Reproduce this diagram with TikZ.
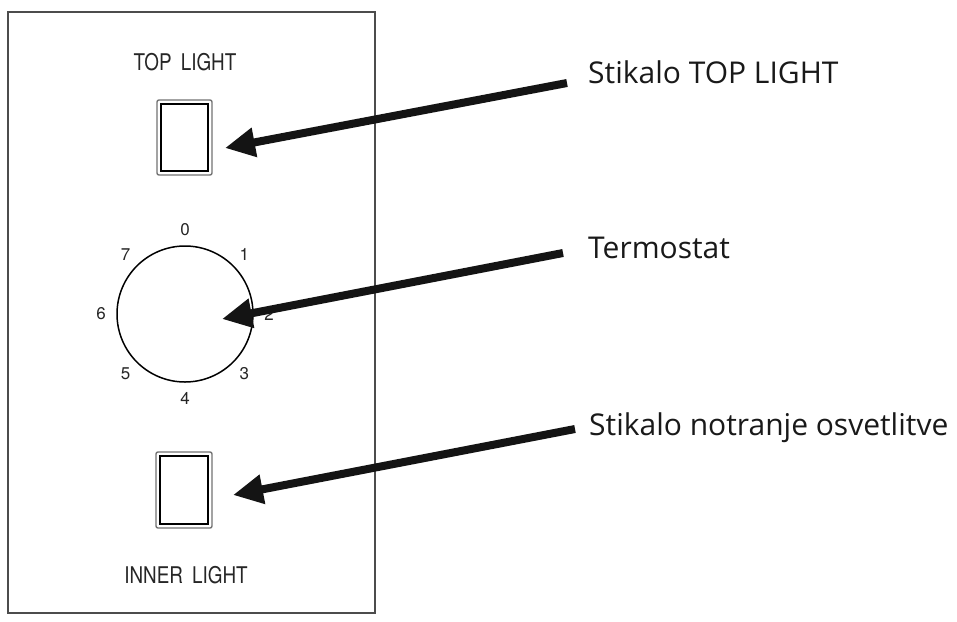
\documentclass[tikz,border=0pt]{standalone}
\usepackage{fontspec}
\setmainfont{Open Sans}
\newfontfamily\labfont[FakeStretch=0.82]{TeX Gyre Heros}
\newfontfamily\numfont{TeX Gyre Heros}
\usetikzlibrary{arrows.meta,calc}
\begin{document}
\begin{tikzpicture}[x=1pt,y=-1pt,
  panel/.style={draw=black!70,line width=1.6pt},
  swouter/.style={draw=black!55,line width=1.4pt,rounded corners=2pt},
  swinner/.style={draw=black,line width=1.4pt},
  dial/.style={draw=black,line width=1.5pt},
  lab/.style={font=\labfont\fontsize{23}{24}\selectfont,text=black!85,inner sep=0pt},
  num/.style={font=\numfont\fontsize{17}{18}\selectfont,text=black!85,inner sep=0pt},
  callout/.style={font=\fontsize{30}{33}\selectfont,text=black!90,inner sep=0pt,anchor=base west},
  pointer/.style={line width=8pt,draw=black!92,-{Triangle[length=30pt,width=28pt]}}]
\useasboundingbox (0,0) rectangle (957,621);
\fill[white] (0,0) rectangle (957,621);
% panel
\draw[panel] (8,12) rectangle (375,613);
% top switch
\node[lab] (toplab) at (185,62) {TOP\ \,LIGHT};
\draw[swouter] (157,100) rectangle (212,175);
\node[swinner,minimum width=47pt,minimum height=67pt,inner sep=0pt] (topsw) at (184.5,137.5) {};
% dial
\node[dial,circle,minimum size=136pt,inner sep=0pt] (dialc) at (185,314) {};
\foreach \n/\a in {0/90,1/45,2/0,3/-45,4/-90,5/-135,6/180,7/135}{
  \node[num] (d\n) at ($(185,314)+(-\a:84)$) {\n};
}
% bottom switch
\draw[swouter] (156,452) rectangle (212,528);
\node[swinner,minimum width=48pt,minimum height=68pt,inner sep=0pt] (botsw) at (184,490) {};
\node[lab] (botlab) at (186,575) {INNER\ \,LIGHT};
% callouts
\node[callout] (t1) at (588,83) {Stikalo TOP LIGHT};
\node[callout] (t2) at (588,258) {Termostat};
\node[callout] (t3) at (589,435) {Stikalo notranje osvetlitve};
\coordinate (a1s) at (567,83);
\coordinate (a1e) at (225,148);
\coordinate (a2s) at (563,253);
\coordinate (a2e) at (222,319);
\coordinate (a3s) at (575,429);
\coordinate (a3e) at (233,495);
\draw[pointer] (a1s) -- (a1e);
\draw[pointer] (a2s) -- (a2e);
\draw[pointer] (a3s) -- (a3e);
\end{tikzpicture}
\end{document}
